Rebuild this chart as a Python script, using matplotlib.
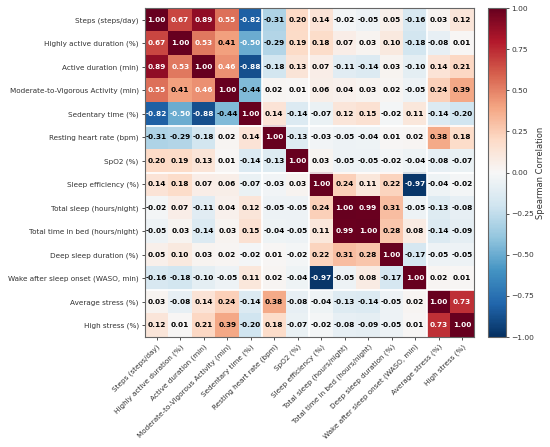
import numpy as np
import matplotlib
matplotlib.use("Agg")
from matplotlib import pyplot as plt

# variable names (rows == columns)
labels = [
    "Steps (steps/day)",
    "Highly active duration (%)",
    "Active duration (min)",
    "Moderate-to-Vigorous Activity (min)",
    "Sedentary time (%)",
    "Resting heart rate (bpm)",
    "SpO2 (%)",
    "Sleep efficiency (%)",
    "Total sleep (hours/night)",
    "Total time in bed (hours/night)",
    "Deep sleep duration (%)",
    "Wake after sleep onset (WASO, min)",
    "Average stress (%)",
    "High stress (%)",
]

# spearman correlation rows
r_steps     = [1.00, 0.67, 0.89, 0.55, -0.82, -0.31, 0.20, 0.14, -0.02, -0.05, 0.05, -0.16, 0.03, 0.12]
r_high_act  = [0.67, 1.00, 0.53, 0.41, -0.50, -0.29, 0.19, 0.18, 0.07, 0.03, 0.10, -0.18, -0.08, 0.01]
r_active    = [0.89, 0.53, 1.00, 0.46, -0.88, -0.18, 0.13, 0.07, -0.11, -0.14, 0.03, -0.10, 0.14, 0.21]
r_mvpa      = [0.55, 0.41, 0.46, 1.00, -0.44, 0.02, 0.01, 0.06, 0.04, 0.03, 0.02, -0.05, 0.24, 0.39]
r_sedentary = [-0.82, -0.50, -0.88, -0.44, 1.00, 0.14, -0.14, -0.07, 0.12, 0.15, -0.02, 0.11, -0.14, -0.20]
r_rhr       = [-0.31, -0.29, -0.18, 0.02, 0.14, 1.00, -0.13, -0.03, -0.05, -0.04, 0.01, 0.02, 0.38, 0.18]
r_spo2      = [0.20, 0.19, 0.13, 0.01, -0.14, -0.13, 1.00, 0.03, -0.05, -0.05, -0.02, -0.04, -0.08, -0.07]
r_sleep_eff = [0.14, 0.18, 0.07, 0.06, -0.07, -0.03, 0.03, 1.00, 0.24, 0.11, 0.22, -0.97, -0.04, -0.02]
r_tot_sleep = [-0.02, 0.07, -0.11, 0.04, 0.12, -0.05, -0.05, 0.24, 1.00, 0.99, 0.31, -0.05, -0.13, -0.08]
r_tot_bed   = [-0.05, 0.03, -0.14, 0.03, 0.15, -0.04, -0.05, 0.11, 0.99, 1.00, 0.28, 0.08, -0.14, -0.09]
r_deep      = [0.05, 0.10, 0.03, 0.02, -0.02, 0.01, -0.02, 0.22, 0.31, 0.28, 1.00, -0.17, -0.05, -0.05]
r_waso      = [-0.16, -0.18, -0.10, -0.05, 0.11, 0.02, -0.04, -0.97, -0.05, 0.08, -0.17, 1.00, 0.02, 0.01]
r_avg_str   = [0.03, -0.08, 0.14, 0.24, -0.14, 0.38, -0.08, -0.04, -0.13, -0.14, -0.05, 0.02, 1.00, 0.73]
r_high_str  = [0.12, 0.01, 0.21, 0.39, -0.20, 0.18, -0.07, -0.02, -0.08, -0.09, -0.05, 0.01, 0.73, 1.00]

# group boundaries (activity | cardio | sleep | stress)
group_breaks = [4.5, 6.5, 11.5]

cbar_ticks = [1.0, 0.75, 0.5, 0.25, 0.0, -0.25, -0.5, -0.75, -1.0]

corr = np.array([r_steps, r_high_act, r_active, r_mvpa, r_sedentary, r_rhr, r_spo2,
                 r_sleep_eff, r_tot_sleep, r_tot_bed, r_deep, r_waso, r_avg_str, r_high_str])
n = len(labels)

fig = plt.figure(figsize=(5.5, 4.47), dpi=100)
ax = fig.add_axes([0.2636, 0.246, 0.598, 0.736])
cax = fig.add_axes([0.887, 0.246, 0.033, 0.736])

im = ax.imshow(corr, cmap="RdBu_r", vmin=-1, vmax=1, aspect="auto")

for i in range(n):
    for j in range(n):
        v = corr[i, j]
        col = "white" if abs(v) > 0.45 else "black"
        ax.text(j, i, f"{v:.2f}", ha="center", va="center",
                fontsize=5.3, fontweight="bold", color=col)

for b in group_breaks:
    ax.axhline(b, color="white", lw=1.2)
    ax.axvline(b, color="white", lw=1.2)

ax.set_xticks(range(n))
ax.set_yticks(range(n))
ax.set_xticklabels(labels, rotation=45, ha="right", rotation_mode="anchor", fontsize=5.2)
ax.set_yticklabels(labels, fontsize=5.2)
ax.tick_params(length=2.5, width=0.6, pad=2, colors="#333333")
for s in ax.spines.values():
    s.set_color("#666666")
    s.set_linewidth(0.8)

cb = fig.colorbar(im, cax=cax)
cb.set_ticks(cbar_ticks)
cb.ax.set_yticklabels([f"{t:.2f}".replace("-", "\u2212") for t in cbar_ticks])
cb.ax.tick_params(labelsize=5.4, length=2.5, width=0.6, pad=1.5, colors="#333333")
cb.outline.set_edgecolor("#666666")
cb.set_label("Spearman Correlation", fontsize=6.0, color="#333333", labelpad=1)

plt.savefig("out.png", dpi=100)
